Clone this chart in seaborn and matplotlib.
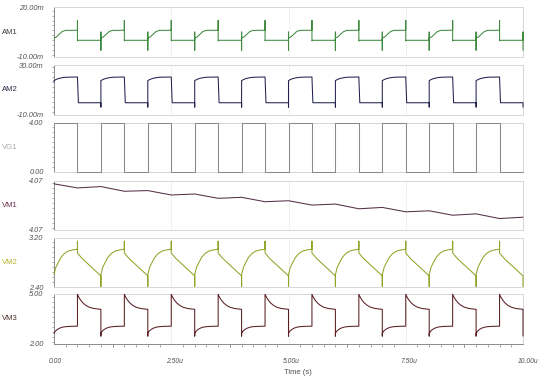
import numpy as np
import pandas as pd
import matplotlib
matplotlib.use("Agg")
import matplotlib.pyplot as plt
import matplotlib.transforms as mtrans
import seaborn as sns
from matplotlib.ticker import MultipleLocator

# period start times (us), gate is high for the first half of each period
period_starts = [0.0, 1.0, 2.0, 3.0, 4.0, 5.0, 6.0, 7.0, 8.0, 9.0]

# one period of each repeating trace (time offset in us, value)
am1_t = [0.00, 0.05, 0.11, 0.17, 0.24, 0.50, 0.50, 0.50, 0.51, 1.00, 1.00, 1.00]
am1_v = [1.4, 2.0, 3.6, 5.2, 6.0, 6.1, 12.0, -0.4, 0.0, 0.0, 5.0, -6.0]

am2_t = [0.00, 0.00, 0.05, 0.10, 0.17, 0.25, 0.35, 0.50, 0.52, 1.00, 1.00]
am2_v = [16.5, 17.4, 18.4, 19.1, 19.7, 20.1, 20.2, 20.3, -0.5, -0.5, -4.0]

vg1_t = [0.0, 0.5, 0.5, 1.0]
vg1_v = [4.0, 4.0, 0.0, 0.0]

vm2_t = [0.00, 0.04, 0.10, 0.15, 0.22, 0.30, 0.40, 0.50, 0.50, 0.50, 0.60, 0.70, 0.80, 0.90, 1.00, 1.00]
vm2_v = [2.60, 2.72, 2.81, 2.88, 2.94, 2.98, 3.00, 3.01, 3.14, 2.95, 2.86, 2.79, 2.72, 2.65, 2.58, 2.41]

vm3_t = [0.00, 0.03, 0.07, 0.12, 0.18, 0.25, 0.35, 0.50, 0.50, 0.53, 0.57, 0.62, 0.68, 0.75, 0.85, 1.00, 1.00]
vm3_v = [2.62, 2.75, 2.85, 2.93, 2.99, 3.02, 3.04, 3.05, 4.98, 4.80, 4.62, 4.45, 4.31, 4.20, 4.12, 4.07, 2.45]

# VM1 drifts, so every corner is listed
vm1_t = [0.0, 0.5, 1.0, 1.5, 2.0, 2.5, 3.0, 3.5, 4.0, 4.5, 5.0,
         5.5, 6.0, 6.5, 7.0, 7.5, 8.0, 8.5, 9.0, 9.5, 10.0]
vm1_v = [4.07346, 4.07280, 4.07302, 4.07226, 4.07237, 4.07166, 4.07182,
         4.07112, 4.07128, 4.07057, 4.07073, 4.07003, 4.07019, 4.06943,
         4.06965, 4.06894, 4.06910, 4.06839, 4.06861, 4.06785, 4.06807]

names = ["AM1", "AM2", "VG1", "VM1", "VM2", "VM3"]
ylims = [(-10, 20), (-10, 30), (0, 4), (4.066, 4.074), (2.4, 3.2), (2.0, 5.0)]
ylabels = [("-10.00m", "20.00m"), ("-10.00m", "30.00m"), ("0.00", "4.00"),
           ("4.07", "4.07"), ("2.40", "3.20"), ("2.00", "5.00")]
line_colors = ["#3f8a3f", "#22224e", "#8a8a8a", "#553048", "#93a326", "#5a1e22"]
name_colors = ["#3a3a3a", "#2a2a48", "#a8a8a8", "#6a2a48", "#b4b428", "#4a2a2a"]
xticks = [0.0, 2.5, 5.0, 7.5, 10.0]
xticklabels = ["0.00", "2.50u", "5.00u", "7.50u", "10.00u"]


def tile(t, v):
    tt = np.concatenate([np.array(t) + s for s in period_starts])
    vv = np.tile(v, len(period_starts))
    return pd.DataFrame({"t": tt, "v": vv})


frames = [tile(am1_t, am1_v), tile(am2_t, am2_v), tile(vg1_t, vg1_v),
          pd.DataFrame({"t": vm1_t, "v": vm1_v}),
          tile(vm2_t, vm2_v), tile(vm3_t, vm3_v)]

sns.set_style("white")
plt.rcParams["font.family"] = ["Liberation Sans", "DejaVu Sans"]

W, H = 540, 379
fig = plt.figure(figsize=(W / 100, H / 100), dpi=100)
left, right = 54, 523
tops = [7.3, 65.0, 122.5, 180.5, 237.5, 294.0]
ph = 49.5
gray = "#8c8c8c"

for i, name in enumerate(names):
    top = tops[i]
    ax = fig.add_axes([left / W, 1 - (top + ph) / H, (right - left) / W, ph / H])
    sns.lineplot(data=frames[i], x="t", y="v", ax=ax, estimator=None, sort=False,
                 color=line_colors[i], linewidth=0.75)
    for ln in ax.lines:
        ln.set_clip_on(False)
        ln.set_zorder(3)
    ax.set_xlim(0, 10)
    ax.set_ylim(*ylims[i])
    ax.set_xlabel("")
    ax.set_ylabel("")
    for xv in [2.5, 5.0, 7.5]:
        ax.axvline(xv, color="#dddddd", lw=0.6, ls=(0, (1, 1)), zorder=0)
    for s in ["top", "right", "bottom"]:
        ax.spines[s].set_color("#d6d6d6")
        ax.spines[s].set_linewidth(0.7)
    ax.spines["left"].set_color(gray)
    ax.spines["left"].set_linewidth(0.7)

    lo, hi = ylims[i]
    ax.set_yticks([lo, hi])
    ax.set_yticklabels(ylabels[i], fontsize=5.3, style="italic", color="#505050")
    ax.yaxis.set_minor_locator(MultipleLocator((hi - lo) / 10))
    ax.tick_params(axis="y", which="major", length=6.5, width=0.6, color=gray, pad=1)
    ax.tick_params(axis="y", which="minor", length=1.8, width=0.5, color=gray, left=True)

    ax.text(2 / W, 1 - (top + ph / 2) / H, name, transform=fig.transFigure,
            fontsize=5.5, color=name_colors[i], ha="left", va="center")

    if i < len(names) - 1:
        ax.set_xticks([])
    else:
        ax.spines["bottom"].set_color(gray)
        ax.set_xticks(xticks)
        ax.set_xticklabels(xticklabels, fontsize=4.9, style="italic", color="#505050",
                           ha="left")
        ax.xaxis.set_minor_locator(MultipleLocator(0.25))
        ax.tick_params(axis="x", which="major", length=5.8, width=0.6, color=gray, pad=4.5)
        ax.tick_params(axis="x", which="minor", length=2.2, width=0.5, color=gray, bottom=True)
        shift = mtrans.ScaledTranslation(-0.055, 0, fig.dpi_scale_trans)
        for lab in ax.get_xticklabels():
            lab.set_transform(lab.get_transform() + shift)
        for xm in [1.25, 3.75, 6.25, 8.75]:
            ax.plot([xm, xm], [0, -0.08], transform=ax.get_xaxis_transform(),
                    color=gray, lw=0.5, clip_on=False)
        fig.text(284 / W, 1 - 372 / H, "Time (s)", fontsize=5.5, color="#505050",
                 ha="left", va="center")

fig.savefig("out.png", dpi=100)
